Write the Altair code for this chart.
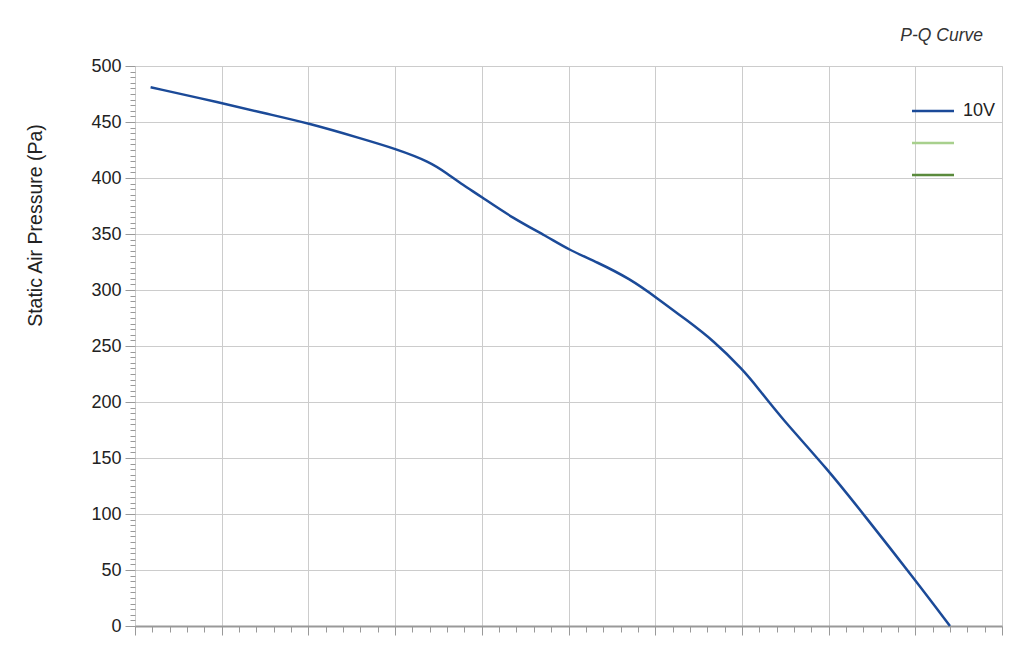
import altair as alt
import pandas as pd

# Curve points (x in unlabeled flow units on a 0-50 scale, y in Pa)
flow = [0.9, 5.0, 7.4, 10.0, 13.1, 15.05, 17.0, 18.0, 18.9, 19.9, 21.8, 23.74, 25.0,
        26.63, 28.55, 30.09, 31.82, 33.35, 35.08, 35.85, 37.2, 40.0, 42.0, 45.1, 47.0]
pressure = [481, 467, 458, 449, 435, 426, 414.5, 404, 394, 384, 364, 348, 336,
            325, 310, 293, 273, 255, 228.5, 214, 187, 139, 100, 39, 0]
series_names = ["10V", " ", "  "]
series_colors = ["#1b4a98", "#a8d08d", "#5a8a3c"]

y_ticks = list(range(0, 501, 5))
x_ticks = list(range(0, 51, 1))

df = pd.DataFrame({"flow": flow, "pressure": pressure, "series": "10V"})

x_axis = alt.Axis(
    values=x_ticks, labels=False, title=None,
    grid=True, gridColor="#cccccc", gridWidth=1,
    gridOpacity={"condition": {"test": "datum.value % 5 === 0", "value": 1}, "value": 0},
    tickSize={"condition": {"test": "datum.value % 5 === 0", "value": 9}, "value": 6},
    tickColor="#999999", tickWidth=1,
    domain=True, domainColor="#999999", domainWidth=2,
)

y_axis = alt.Axis(
    values=y_ticks, title="Static Air Pressure  (Pa)",
    labelExpr="datum.value % 50 === 0 ? datum.label : ''",
    labelOverlap=False, labelFontSize=18, labelColor="#222222", labelFont="Liberation Sans",
    labelPadding=4,
    grid=True, gridColor="#cccccc", gridWidth=1,
    gridOpacity={"condition": {"test": "datum.value % 50 === 0", "value": 1}, "value": 0},
    tickSize={"condition": {"test": "datum.value % 50 === 0", "value": 10}, "value": 5},
    tickColor="#999999", tickWidth=1,
    domain=False,
    titleFontSize=19.5, titleFont="Liberation Sans", titleFontWeight="normal", titleColor="#222222",
    titleAngle=270, titleX=-100, titleY=159, titleAlign="center", titleBaseline="middle",
)

line = alt.Chart(df).mark_line(strokeWidth=2.5, interpolate="basis").encode(
    x=alt.X("flow:Q", scale=alt.Scale(domain=[0, 50], nice=False, zero=False), axis=x_axis),
    y=alt.Y("pressure:Q", scale=alt.Scale(domain=[0, 500], nice=False), axis=y_axis),
    color=alt.Color(
        "series:N",
        scale=alt.Scale(domain=series_names, range=series_colors),
        legend=alt.Legend(
            orient="none", legendX=786, legendY=33, title=None,
            symbolType="M-2,0H2", symbolSize=441, symbolStrokeWidth=2.5,
            labelFontSize=18, labelFont="Liberation Sans", labelColor="#222222",
            labelOffset=18, rowPadding=11, padding=0,
        ),
    ),
)

chart = line.properties(
    width=867, height=560,
    autosize=alt.AutoSizeParams(type="none"),
    padding={"left": 127, "top": 58, "right": 14, "bottom": 25},
    title=alt.TitleParams(
        "P-Q Curve", anchor="end", fontSize=17.5, font="Liberation Sans", fontStyle="italic",
        fontWeight="normal", color="#333333", dx=-19, offset=13, frame="group",
    ),
).configure_view(stroke=None).configure(background="white")

chart.save("out.html", embed_options={"renderer": "svg", "actions": False})
